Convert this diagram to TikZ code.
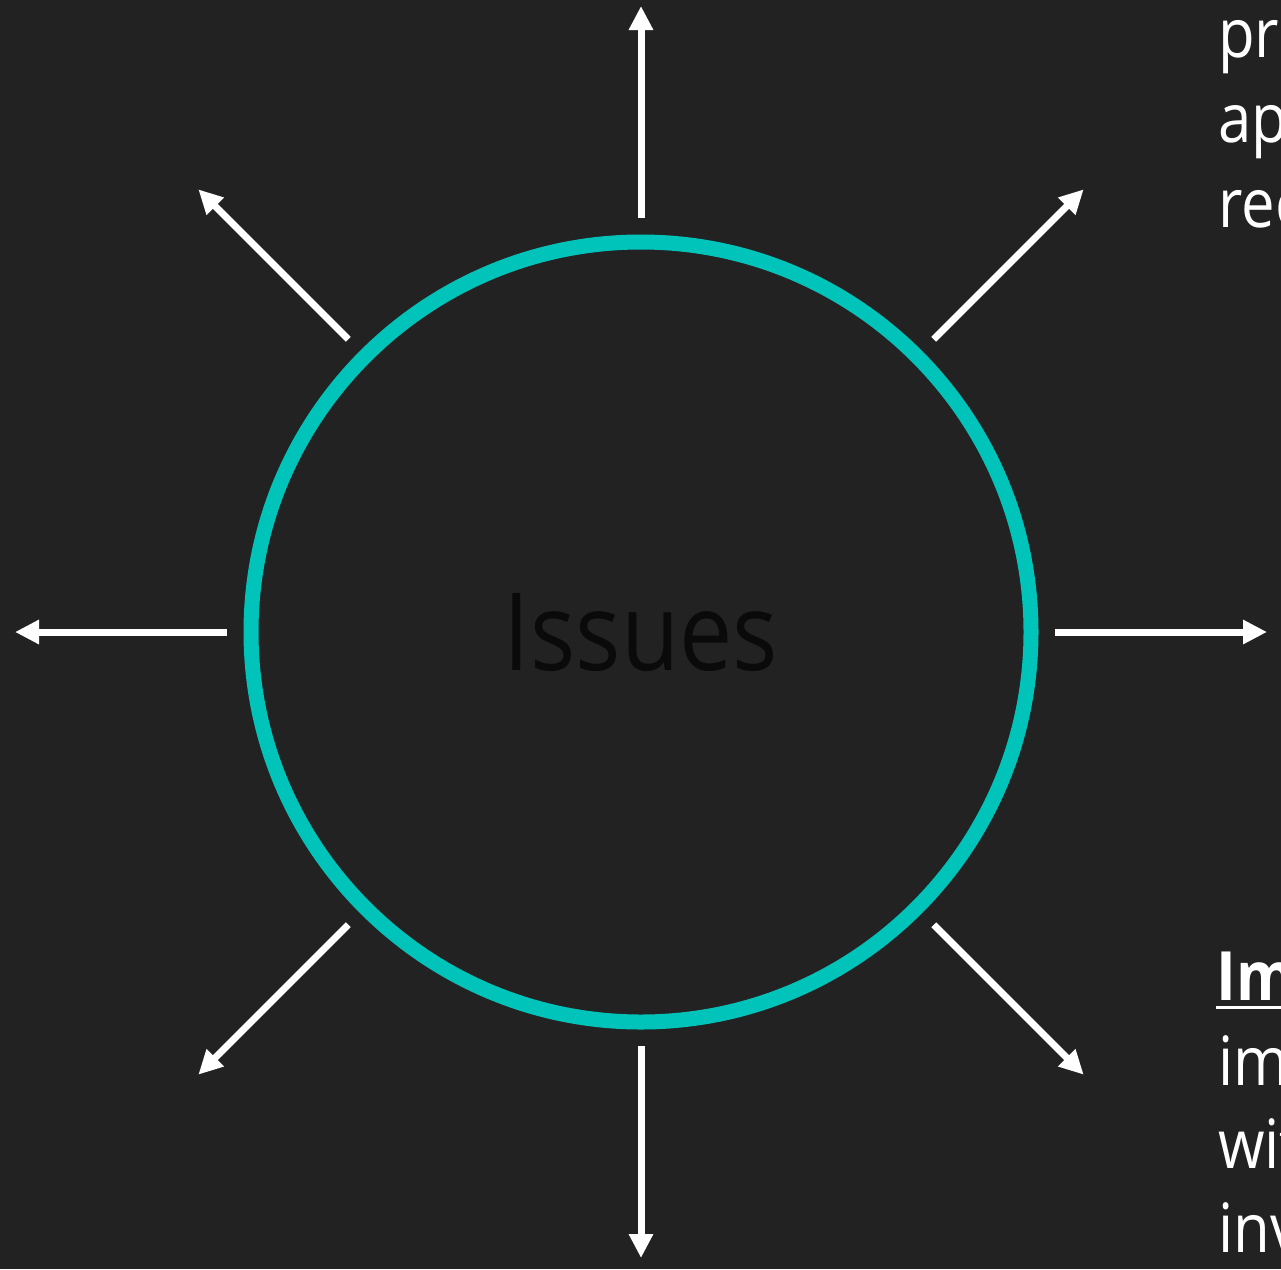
\documentclass[tikz,border=0pt]{standalone}
\usepackage{fontspec}
\setmainfont{Open Sans}
\usetikzlibrary{arrows.meta}
\definecolor{bg}{HTML}{222222}
\definecolor{ring}{HTML}{00C4BA}
\definecolor{ink}{HTML}{0A0A0A}
\newcommand{\narrow}[1]{\scalebox{0.88}[1]{#1}}
\tikzset{
  ray/.style={draw=white, line width=7pt, line cap=butt, -{Triangle[length=24pt,width=23pt]}},
  side/.style={text=white, anchor=base west, inner sep=0pt, font=\fontsize{68}{82}\selectfont},
}
\begin{document}
\begin{tikzpicture}[x=1pt,y=-1pt]
\useasboundingbox (0,0) rectangle (1281,1269);
\fill[bg] (0,0) rectangle (1281,1269);
\node[circle, draw=ring, line width=15pt, minimum size=780pt, inner sep=0pt,
      text=ink, font=\fontsize{108}{120}\selectfont] (c) at (641,632) {\narrow{Issues}};
\foreach \a in {0,45,...,315}{
  \coordinate (s\a) at ([shift={(\a:414)}]c.center);
  \coordinate (e\a) at ([shift={(\a:626)}]c.center);
  \draw[ray] (s\a) -- (e\a);
}
\begin{scope}
\clip (0,0) rectangle (1281,1269);
\node[side] (t1) at (1218,57) {\narrow{pri}};
\node[side] (t2) at (1218,142) {\narrow{ap}};
\node[side] (t3) at (1218,227) {\narrow{rec}};
\node[side, font=\fontsize{68}{82}\selectfont\bfseries] (t4) at (1216,1000) {\narrow{Im}};
\node[side] (t5) at (1218,1085) {\narrow{im}};
\node[side] (t6) at (1218,1168) {\narrow{wit}};
\node[side] (t7) at (1218,1252) {\narrow{inv}};
\draw[white, line width=3pt] ([yshift=-7pt]t4.base west) -- ([yshift=-7pt,xshift=20pt]t4.base east);
\end{scope}
\end{tikzpicture}
\end{document}
